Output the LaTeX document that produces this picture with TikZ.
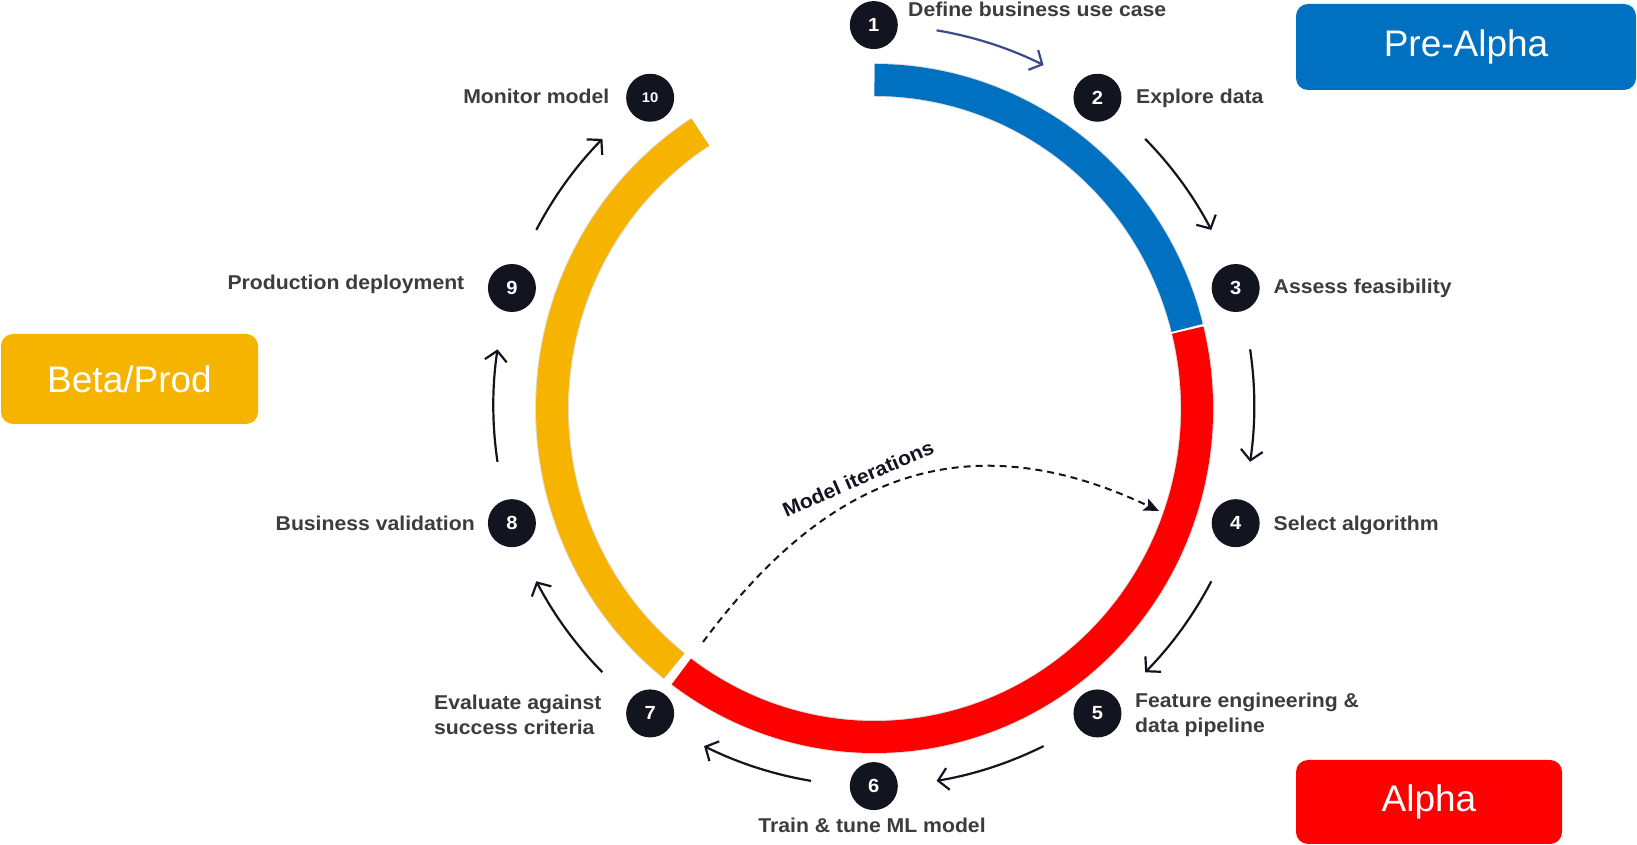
\documentclass[tikz,border=0pt]{standalone}
\usepackage{fontspec}
\setmainfont{Liberation Sans}
\newfontfamily\labfont{Liberation Sans}[FakeStretch=1.06]
\newfontfamily\boxfont{Liberation Sans}
\usetikzlibrary{arrows.meta,calc}
\definecolor{pblue}{HTML}{0070C0}
\definecolor{pred}{HTML}{FF0000}
\definecolor{pyel}{HTML}{F6B400}
\definecolor{navy}{HTML}{12141F}
\definecolor{labgray}{HTML}{3C3C3C}
\definecolor{slate}{HTML}{3D4A8A}
\begin{document}
\begin{tikzpicture}[x=1pt,y=1pt,
  num/.style={circle,fill=navy,minimum size=48pt,inner sep=0pt,text=white,font=\labfont\bfseries\fontsize{19}{19}\selectfont},
  lab/.style={text=labgray,font=\labfont\bfseries\fontsize{20}{24.5}\selectfont,inner sep=0pt},
  phase/.style={rounded corners=12pt,inner sep=0pt,text=white,font=\boxfont\fontsize{37}{37}\selectfont},
  flow/.style={line width=2.2pt,draw=navy,-{Straight Barb[length=10pt,width=22pt,line width=2.2pt]}},
  ringseg/.style={line width=32pt},
  ringshadow/.style={line width=34pt,draw=black,opacity=0.12}
]
\useasboundingbox (0,0) rectangle (1637,845);

% phase boxes
\node[phase,fill=pblue,minimum width=340pt,minimum height=86pt] (pre) at (1466,798) {Pre-Alpha};
\node[phase,fill=pred,minimum width=266pt,minimum height=84pt] (alpha) at (1429,43) {Alpha};
\node[phase,fill=pyel,minimum width=257pt,minimum height=90pt] (beta) at (129.5,466) {Beta/Prod};

% ring
\coordinate (R) at (874.5,436.5);
\begin{scope}[shift={(3,-4)}]
  \draw[ringshadow] ($(R)+(90:322.5 and 328.5)$) arc[start angle=90,end angle=14.2,x radius=322.5,y radius=328.5];
  \draw[ringshadow] ($(R)+(13.8:322.5 and 328.5)$) arc[start angle=13.8,end angle=-126.8,x radius=322.5,y radius=328.5];
  \draw[ringshadow] ($(R)+(231.6:322.5 and 328.5)$) arc[start angle=231.6,end angle=122.7,x radius=322.5,y radius=328.5];
\end{scope}
\draw[ringseg,pblue] ($(R)+(90:322.5 and 328.5)$) arc[start angle=90,end angle=14.2,x radius=322.5,y radius=328.5];
\draw[ringseg,pred] ($(R)+(13.8:322.5 and 328.5)$) arc[start angle=13.8,end angle=-126.8,x radius=322.5,y radius=328.5];
\draw[ringseg,pyel] ($(R)+(231.6:322.5 and 328.5)$) arc[start angle=231.6,end angle=122.7,x radius=322.5,y radius=328.5];

% step circles
\coordinate (O) at (873.8,439.4);
\node[num] (n1) at ($(O)+(90:380.5)$) {1};
\node[num] (n2) at ($(O)+(54:380.5)$) {2};
\node[num] (n3) at ($(O)+(18:380.5)$) {3};
\node[num] (n4) at ($(O)+(-18:380.5)$) {4};
\node[num] (n5) at ($(O)+(-54:380.5)$) {5};
\node[num] (n6) at ($(O)+(-90:380.5)$) {6};
\node[num] (n7) at ($(O)+(-126:380.5)$) {7};
\node[num] (n8) at ($(O)+(-162:380.5)$) {8};
\node[num] (n9) at ($(O)+(-198:380.5)$) {9};
\node[num,font=\labfont\bfseries\fontsize{14}{14}\selectfont] (n10) at ($(O)+(-234:380.5)$) {10};

% labels
\node[lab,anchor=base west] (l1) at (908,828.3) {Define business use case};
\node[lab,anchor=base west] (l2) at (1136,741) {Explore data};
\node[lab,anchor=base west] (l3) at (1273.5,551) {Assess feasibility};
\node[lab,anchor=base west] (l4) at (1273.5,314) {Select algorithm};
\node[lab,anchor=west,align=left] (l5) at (1135,130) {Feature engineering \&\\data pipeline};
\node[lab,anchor=base] (l6) at (872,12.5) {Train \& tune ML model};
\node[lab,anchor=west,align=left] (l7) at (434,130) {Evaluate against\\success criteria};
\node[lab,anchor=base east] (l8) at (475,314) {Business validation};
\node[lab,anchor=base east] (l9) at (464.5,555) {Production deployment};
\node[lab,anchor=base east] (l10) at (609.5,741) {Monitor model};

% flow arrows
\draw[flow,draw=slate] ($(O)+(80.5:380.5)$) arc[start angle=80.5,end angle=63.5,radius=380.5];
\foreach \s in {44.5,8.5,-27.5,-63.5,-99.5,-135.5,-171.5,-207.5}{
  \draw[flow] ($(O)+(\s:380.5)$) arc[start angle=\s,end angle=\s-17,radius=380.5];
}

% model iterations
\coordinate (ds) at (703,203);
\coordinate (de) at (1159,334);
\draw[navy,line width=2pt,dash pattern=on 7pt off 5pt,-{Stealth[length=15pt,width=13pt,inset=3pt]}] (ds) .. controls (804.5,339.3) and (939.3,438.3) .. (de);
\node[text=navy,font=\labfont\bfseries\fontsize{20}{20}\selectfont,rotate=23.5,inner sep=0pt] (mi) at (858,366.5) {Model iterations};
\end{tikzpicture}
\end{document}
